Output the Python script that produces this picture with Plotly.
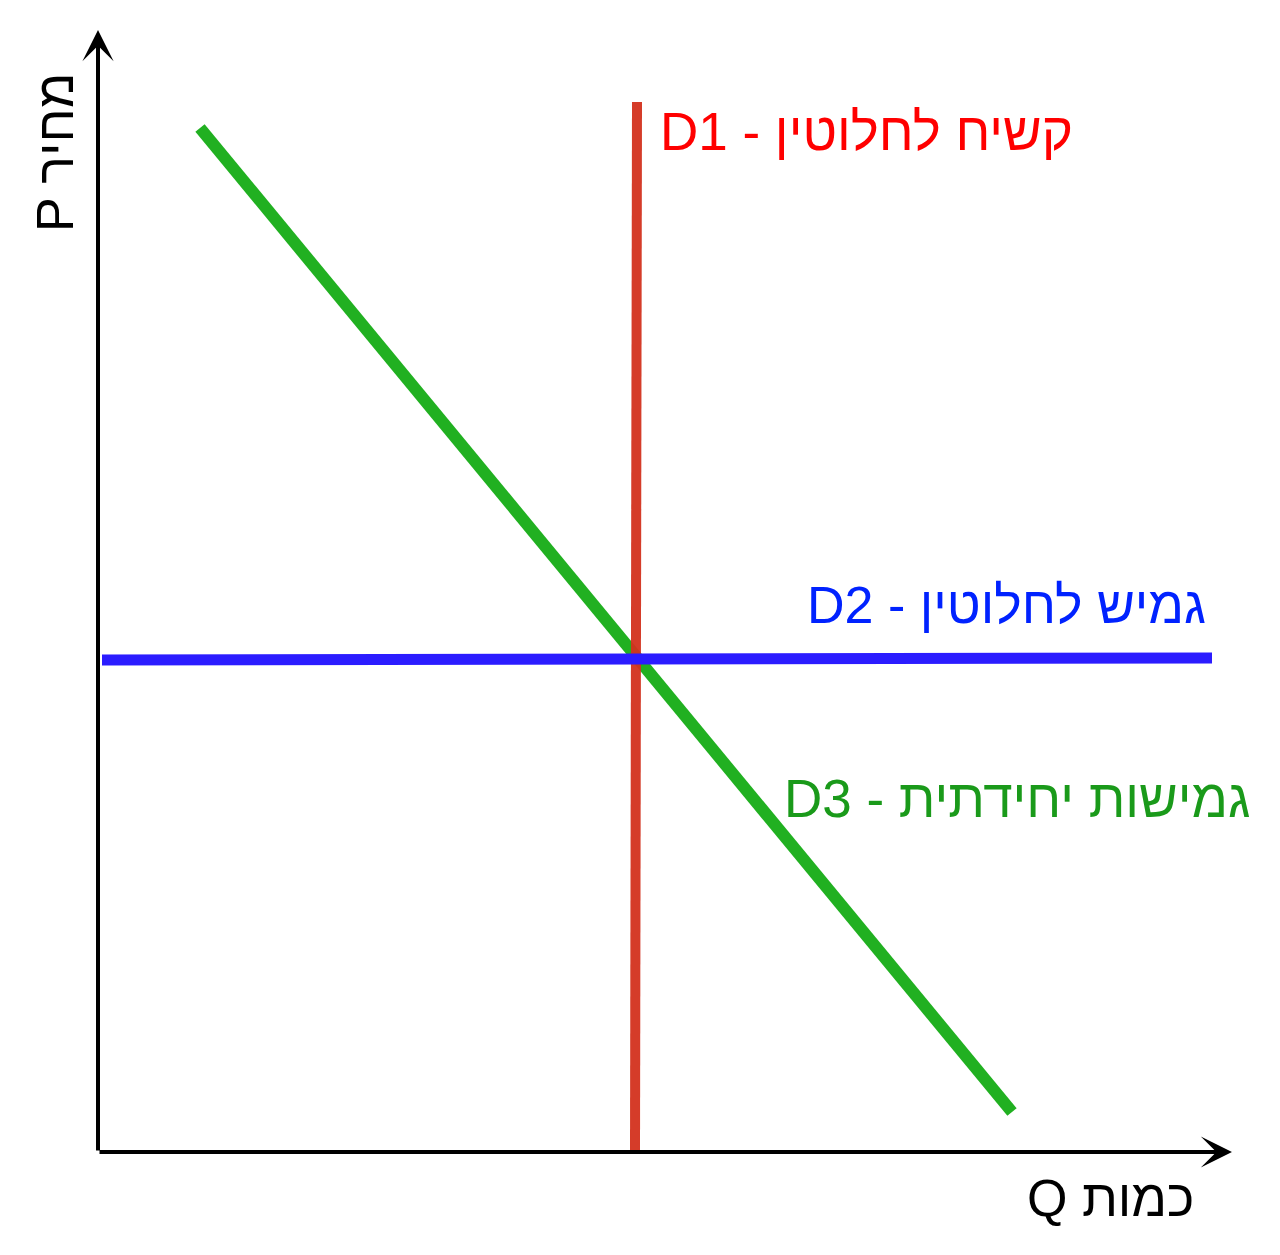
import plotly.graph_objects as go

# === DATA (Q = quantity, P = price) ===
d1_q = [5.39, 5.37]          # perfectly inelastic
d1_p = [10.50, 0.02]
d2_q = [0.04, 11.14]         # perfectly elastic
d2_p = [4.92, 4.94]
d3_q = [1.02, 9.14]          # unit elastic
d3_p = [10.24, 0.40]

labels = {
    "D1": "D1 - קשיח לחלוטין",
    "D2": "D2 - גמיש לחלוטין",
    "D3": "D3 - גמישות יחידתית",
}
x_title = "Q כמות"
y_title = "P מחיר"

FONT = "Liberation Sans, Arial, DejaVu Sans"

fig = go.Figure()
fig.add_trace(go.Scatter(x=d3_q, y=d3_p, mode="lines",
                         line=dict(color="#21b021", width=12), hoverinfo="skip"))
fig.add_trace(go.Scatter(x=d1_q, y=d1_p, mode="lines", opacity=0.95,
                         line=dict(color="#d3321e", width=10), hoverinfo="skip"))
fig.add_trace(go.Scatter(x=d2_q, y=d2_p, mode="lines",
                         line=dict(color="#2b1cff", width=11), hoverinfo="skip"))

# === AXES WITH ARROWS ===
axis_arrow = dict(text="", showarrow=True, arrowhead=3, arrowsize=1.3, arrowwidth=4,
                  arrowcolor="black", xref="x", yref="y", axref="x", ayref="y")
fig.add_annotation(x=11.34, y=0, ax=0, ay=0, **axis_arrow)
fig.add_annotation(x=0, y=11.22, ax=0, ay=0, **axis_arrow)

# === TEXT LABELS ===
fig.add_annotation(x=5.60, y=10.21, text=labels["D1"], showarrow=False, xanchor="left",
                   yanchor="middle", font=dict(family=FONT, size=53, color="#ff0000"))
fig.add_annotation(x=7.07, y=5.47, text=labels["D2"], showarrow=False, xanchor="left",
                   yanchor="middle", font=dict(family=FONT, size=52, color="#0022ff"))
fig.add_annotation(x=6.84, y=3.54, text=labels["D3"], showarrow=False, xanchor="left",
                   yanchor="middle", font=dict(family=FONT, size=53, color="#1a9a1a"))
fig.add_annotation(x=10.12, y=-0.46, text=x_title, showarrow=False,
                   font=dict(family=FONT, size=52, color="black"))
fig.add_annotation(x=-0.43, y=9.99, text=y_title, showarrow=False, textangle=-90,
                   font=dict(family=FONT, size=52, color="black"))

# page body adds an 8px offset, so the figure is 8px smaller and ranges shifted
fig.update_layout(
    width=1272, height=1247,
    margin=dict(l=0, r=0, t=0, b=0),
    paper_bgcolor="white", plot_bgcolor="white",
    showlegend=False,
    xaxis=dict(range=[-0.90, 11.82], visible=False, fixedrange=True),
    yaxis=dict(range=[-1.03, 11.44], visible=False, fixedrange=True),
)

fig.write_html("out.html")
